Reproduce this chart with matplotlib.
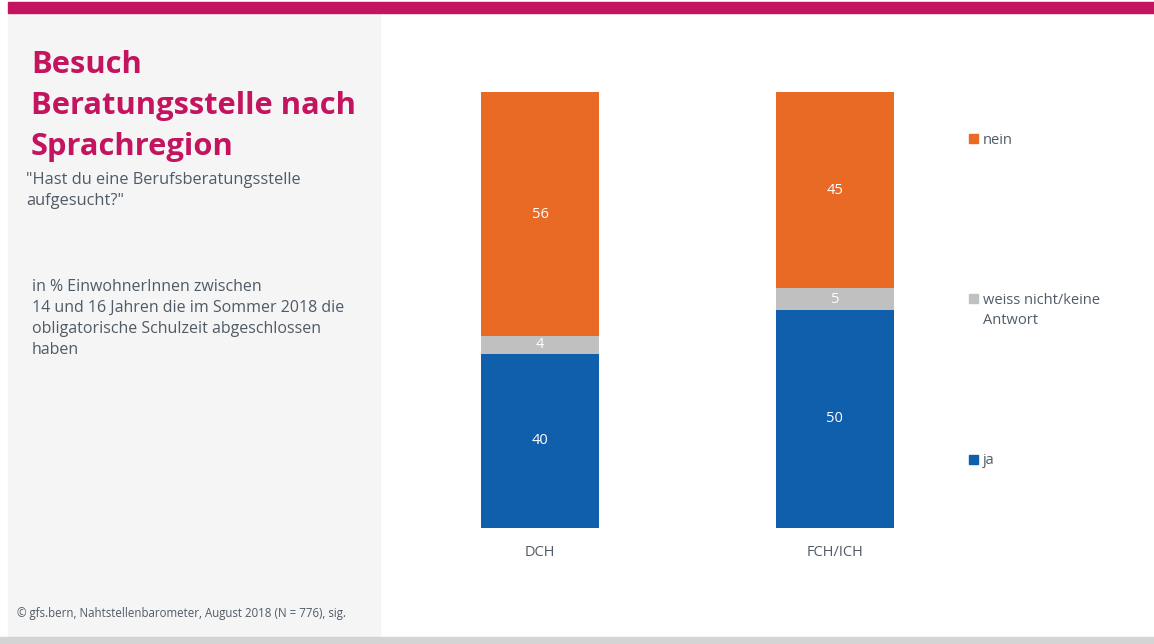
import matplotlib.pyplot as plt
from matplotlib.patches import Rectangle

plt.rcParams['font.family'] = ['Open Sans', 'DejaVu Sans']

# Daten
regionen = ['DCH', 'FCH/ICH']
ja = [40, 50]
weiss_nicht = [4, 5]
nein = [56, 45]
serien = ['ja', 'weiss nicht/keine\nAntwort', 'nein']

c_ja = '#0F5FAD'
c_wn = '#C0C0C0'
c_nein = '#E86A24'
c_titel = '#C4135F'
c_text = '#4F5B66'

W, H = 1154, 644
fig = plt.figure(figsize=(W / 100, H / 100), dpi=100)
fig.patch.set_facecolor('white')

def px(x, y):
    return x / W, 1 - y / H

# Rahmen: Balken oben, graues Panel links, Streifen unten
fig.add_artist(Rectangle(px(8, 637), 372 / W, 624 / H, color='#F5F5F5', transform=fig.transFigure, zorder=0))
fig.add_artist(Rectangle(px(8, 13), (W - 8) / W, 11 / H, color=c_titel, transform=fig.transFigure, zorder=1))
fig.add_artist(Rectangle(px(0, 644), 1, 7 / H, color='#D4D4D4', transform=fig.transFigure, zorder=0))

# Titel und Beschreibung
for i, zeile in enumerate(['Besuch', 'Beratungsstelle nach', 'Sprachregion']):
    fig.text(*px(31, 65 + i * 41), zeile, color=c_titel, fontsize=22.2, fontweight='bold', va='center')
fig.text(*px(26, 180), '"Hast du eine Berufsberatungsstelle', color=c_text, fontsize=11.8, va='center')
fig.text(*px(26, 201), 'aufgesucht?"', color=c_text, fontsize=11.8, va='center')
notiz = ['in % EinwohnerInnen zwischen', '14 und 16 Jahren die im Sommer 2018 die',
         'obligatorische Schulzeit abgeschlossen', 'haben']
for i, zeile in enumerate(notiz):
    fig.text(*px(32, 287 + i * 21), zeile, color=c_text, fontsize=11.5, va='center')
fig.text(*px(17, 613), '© gfs.bern, Nahtstellenbarometer, August 2018 (N = 776), sig.',
         color=c_text, fontsize=8.3, va='center')

# Gestapelte Balken
ax = fig.add_axes([393 / W, (H - 528) / H, 589 / W, 436 / H])
x = range(len(regionen))
b = 0.4
ax.bar(x, ja, width=b, color=c_ja)
ax.bar(x, weiss_nicht, width=b, bottom=ja, color=c_wn)
unten_nein = [j + w for j, w in zip(ja, weiss_nicht)]
ax.bar(x, nein, width=b, bottom=unten_nein, color=c_nein)

for i in x:
    ax.text(i, ja[i] / 2, str(ja[i]), color='white', ha='center', va='center', fontsize=10.5)
    ax.text(i, ja[i] + weiss_nicht[i] / 2, str(weiss_nicht[i]), color='white', ha='center', va='center', fontsize=10.5)
    ax.text(i, unten_nein[i] + nein[i] / 2, str(nein[i]), color='white', ha='center', va='center', fontsize=10.5)

ax.set_xlim(-0.5, 1.5)
ax.set_ylim(0, 100)
ax.set_xticks(list(x))
ax.set_xticklabels(regionen, color=c_text, fontsize=10.5)
ax.tick_params(axis='x', length=0, pad=12)
ax.set_yticks([])
for s in ax.spines.values():
    s.set_visible(False)
ax.patch.set_alpha(0)

# Legende
for farbe, text, y in [(c_nein, serien[2], 139), (c_wn, serien[1], 299), (c_ja, serien[0], 460)]:
    fig.add_artist(Rectangle(px(969, y + 4), 9 / W, 9 / H, color=farbe, transform=fig.transFigure))
    if '\n' in text:
        fig.text(*px(983, y - 6), text, color=c_text, fontsize=10.5, va='top', linespacing=1.45)
    else:
        fig.text(*px(983, y + 1), text, color=c_text, fontsize=10.5, va='center')

fig.savefig('out.png', dpi=100)
